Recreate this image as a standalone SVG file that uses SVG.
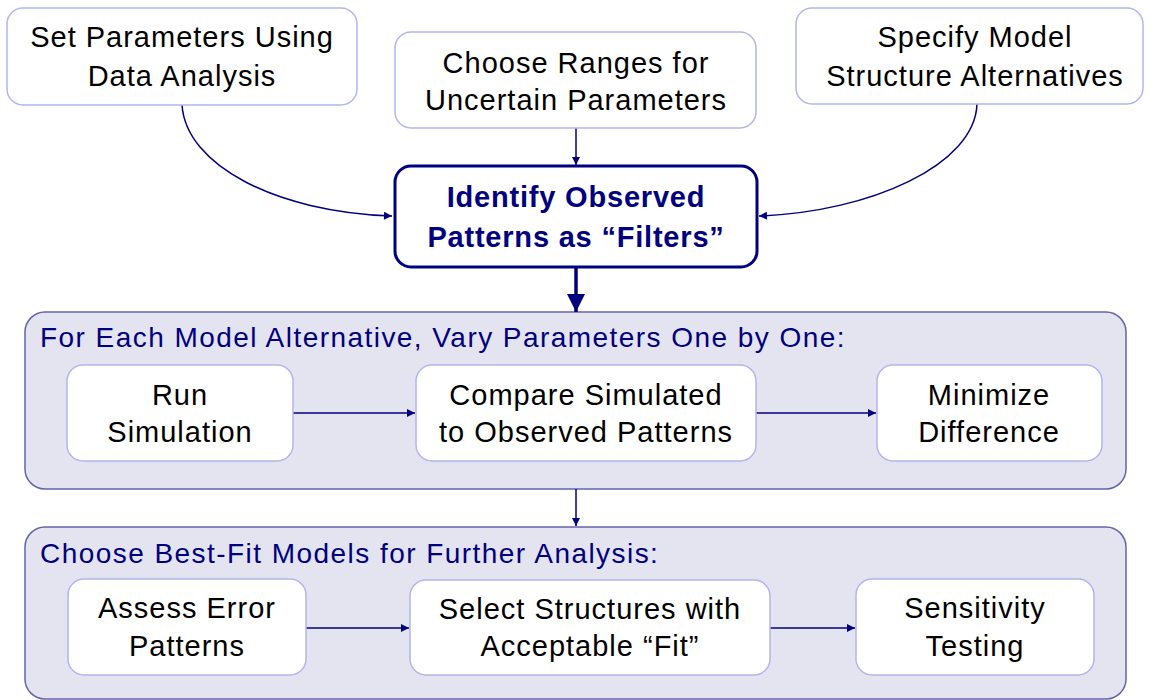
<svg xmlns="http://www.w3.org/2000/svg" width="1151" height="700" viewBox="0 0 1151 700">
  <style>
    .node { fill: #ffffff; stroke: #b4b4f0; stroke-width: 1.5; }
    .key { fill: #ffffff; stroke: #000080; stroke-width: 3; }
    .panel { fill: #e4e4f0; stroke: #6464aa; stroke-width: 1.5; }
    .t { font-family: "Liberation Sans", Arial, sans-serif; font-size: 29px; letter-spacing: 1px; fill: #000000; text-anchor: middle; }
    .tb { font-family: "Liberation Sans", Arial, sans-serif; font-size: 29px; letter-spacing: 0.8px; font-weight: bold; fill: #000080; text-anchor: middle; }
    .title { font-family: "Liberation Sans", Arial, sans-serif; font-size: 28px; letter-spacing: 1.45px; fill: #000080; }
    .conn { fill: none; stroke: #000080; stroke-width: 1.5; }
    .thick { fill: none; stroke: #000080; stroke-width: 3.5; }
  </style>
  <defs>
    <marker id="arr" viewBox="0 0 10 10" refX="10" refY="5" markerWidth="10" markerHeight="8" markerUnits="userSpaceOnUse" orient="auto">
      <path d="M0,0 L10,5 L0,10 Z" fill="#000080"/>
    </marker>
    <marker id="arrBig" viewBox="0 0 10 10" refX="10" refY="5" markerWidth="18" markerHeight="20" markerUnits="userSpaceOnUse" orient="auto">
      <path d="M0,0 L10,5 L0,10 Z" fill="#000080"/>
    </marker>
  </defs>

  <rect width="1151" height="700" fill="#ffffff"/>

  <!-- panels -->
  <g id="panel-vary">
    <rect class="panel" x="25" y="312" width="1101" height="177" rx="20"/>
    <text class="title" x="40" y="347">For Each Model Alternative, Vary Parameters One by One:</text>
  </g>
  <g id="panel-choose">
    <rect class="panel" x="25" y="527" width="1101" height="172" rx="20"/>
    <text class="title" x="40" y="563">Choose Best-Fit Models for Further Analysis:</text>
  </g>

  <!-- connectors -->
  <g id="connectors">
    <path class="conn" d="M182,105 C186,165 275,212 392,216" marker-end="url(#arr)"/>
    <path class="conn" d="M977,104 C975,165 870,212 759,216" marker-end="url(#arr)"/>
    <path class="conn" d="M576,128 L576,165" marker-end="url(#arr)"/>
    <path class="thick" d="M576,267 L576,312" marker-end="url(#arrBig)"/>
    <path class="conn" d="M576,489 L576,526" marker-end="url(#arr)"/>
    <path class="conn" d="M293,413 L415,413" marker-end="url(#arr)"/>
    <path class="conn" d="M756,413 L876,413" marker-end="url(#arr)"/>
    <path class="conn" d="M306,628 L409,628" marker-end="url(#arr)"/>
    <path class="conn" d="M770,628 L855,628" marker-end="url(#arr)"/>
  </g>

  <!-- nodes -->
  <g id="set-parameters">
    <rect class="node" x="7" y="8" width="350" height="97" rx="16"/>
    <text class="t" x="182" y="47">Set Parameters Using</text>
    <text class="t" x="182" y="86">Data Analysis</text>
  </g>
  <g id="choose-ranges">
    <rect class="node" x="395" y="32" width="361" height="96" rx="16"/>
    <text class="t" x="576" y="73">Choose Ranges for</text>
    <text class="t" x="576" y="110">Uncertain Parameters</text>
  </g>
  <g id="specify-structure">
    <rect class="node" x="796" y="8" width="347" height="96" rx="16"/>
    <text class="t" x="975" y="47">Specify Model</text>
    <text class="t" x="975" y="86">Structure Alternatives</text>
  </g>
  <g id="identify-patterns">
    <rect class="key" x="395" y="166" width="362" height="101" rx="16"/>
    <text class="tb" x="576" y="207">Identify Observed</text>
    <text class="tb" x="576" y="247">Patterns as “Filters”</text>
  </g>
  <g id="run-simulation">
    <rect class="node" x="67" y="365" width="226" height="96" rx="16"/>
    <text class="t" x="180" y="405">Run</text>
    <text class="t" x="180" y="442">Simulation</text>
  </g>
  <g id="compare-patterns">
    <rect class="node" x="416" y="365" width="340" height="96" rx="16"/>
    <text class="t" x="586" y="405">Compare Simulated</text>
    <text class="t" x="586" y="442">to Observed Patterns</text>
  </g>
  <g id="minimize-difference">
    <rect class="node" x="877" y="365" width="225" height="96" rx="16"/>
    <text class="t" x="989" y="405">Minimize</text>
    <text class="t" x="989" y="442">Difference</text>
  </g>
  <g id="assess-error">
    <rect class="node" x="68" y="579" width="238" height="96" rx="16"/>
    <text class="t" x="187" y="618">Assess Error</text>
    <text class="t" x="187" y="656">Patterns</text>
  </g>
  <g id="select-structures">
    <rect class="node" x="410" y="580" width="360" height="95" rx="16"/>
    <text class="t" x="590" y="619">Select Structures with</text>
    <text class="t" x="590" y="656">Acceptable “Fit”</text>
  </g>
  <g id="sensitivity-testing">
    <rect class="node" x="856" y="579" width="238" height="96" rx="16"/>
    <text class="t" x="975" y="618">Sensitivity</text>
    <text class="t" x="975" y="656">Testing</text>
  </g>
</svg>
